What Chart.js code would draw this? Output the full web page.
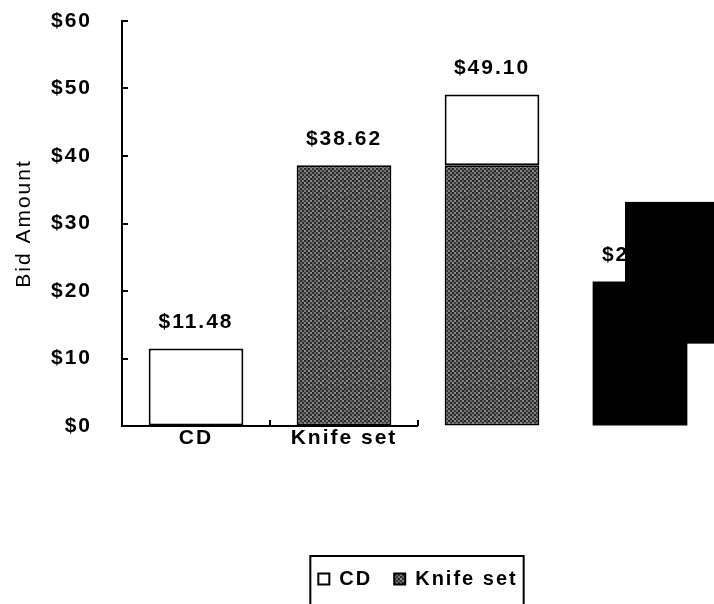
<!DOCTYPE html>
<html>
<head>
<meta charset="utf-8">
<script src="https://cdn.jsdelivr.net/npm/chart.js@4/dist/chart.umd.min.js"></script>
<style>
  html, body { margin: 0; padding: 0; background: #fff; }
  canvas { display: block; }
</style>
</head>
<body>
<canvas id="bids" width="714" height="604"></canvas>
<script>
// ---- data ----
const categories = ['CD', 'Knife set', '', ''];
const knifeSetBids = [null, 38.62, 38.62, null];
const cdBids = [11.48, null, 10.48, null];
const fourthBids = [null, null, null, 21.40];
const yTicks = [0, 10, 20, 30, 40, 50, 60];

// ---- styling constants ----
const FONT = 'Liberation Sans, Arial, Helvetica, sans-serif';
const LETTER_SPACING = '2px';
const LABEL_SIZE = 21;
const LABEL_OFFSET = 26;          // gap between a column top and its value label
const Y_AXIS_WIDTH = 122;
const X_AXIS_HEIGHT = 121;
const AXIS_SPAN = 2;              // categories the drawn x-axis line runs under
const TICK_LEN = 6;
const cover = { index: 3, from: 12.2, to: 33.2, inset: 15 };

// dithered grey fill used for the knife set columns
function speckle() {
  const levels = [
    [55, 125, 40, 95, 35, 135],
    [110, 35, 145, 45, 115, 60],
    [45, 100, 55, 135, 40, 110],
    [135, 45, 115, 35, 100, 45],
    [35, 120, 60, 125, 50, 140],
    [100, 50, 130, 40, 145, 35]
  ];
  const cell = 2;
  const c = document.createElement('canvas');
  c.width = c.height = levels.length * cell;
  const g = c.getContext('2d');
  levels.forEach((row, y) => row.forEach((v, x) => {
    g.fillStyle = `rgb(${v},${v},${v})`;
    g.fillRect(x * cell, y * cell, cell, cell);
  }));
  return g.createPattern(c, 'repeat');
}

const spacing = {
  id: 'spacing',
  beforeUpdate(chart) { chart.ctx.letterSpacing = LETTER_SPACING; },
  beforeDraw(chart) { chart.ctx.letterSpacing = LETTER_SPACING; }
};

// inward y ticks and the short x-axis line with upward ticks
const axes = {
  id: 'axes',
  afterDraw(chart) {
    const { ctx, chartArea, scales: { x, y } } = chart;
    ctx.save();
    ctx.strokeStyle = '#000';
    ctx.lineWidth = 2;
    ctx.beginPath();
    y.ticks.forEach(t => {
      const py = Math.round(y.getPixelForValue(t.value));
      ctx.moveTo(chartArea.left, py);
      ctx.lineTo(chartArea.left + TICK_LEN, py);
    });
    const half = (x.getPixelForValue(1) - x.getPixelForValue(0)) / 2;
    const end = x.getPixelForValue(AXIS_SPAN - 1) + half;
    const by = Math.round(chartArea.bottom);
    ctx.moveTo(chartArea.left - 1, by);
    ctx.lineTo(end, by);
    for (let i = 0; i < AXIS_SPAN; i++) {
      const px = Math.round(x.getPixelForValue(i) + half);
      ctx.moveTo(px, by);
      ctx.lineTo(px, by - TICK_LEN);
    }
    ctx.stroke();
    ctx.restore();
  }
};

// value labels above each column
const totals = {
  id: 'totals',
  afterDatasetsDraw(chart) {
    const { ctx, scales: { y } } = chart;
    ctx.save();
    ctx.letterSpacing = LETTER_SPACING;
    ctx.font = `bold ${LABEL_SIZE}px ${FONT}`;
    ctx.fillStyle = '#000';
    ctx.textAlign = 'center';
    ctx.textBaseline = 'middle';
    categories.forEach((_, i) => {
      let total = 0, px = null;
      chart.data.datasets.forEach((ds, d) => {
        const v = ds.data[i];
        if (v !== null && v !== undefined) {
          total += v;
          px = chart.getDatasetMeta(d).data[i].x;
        }
      });
      if (px === null) return;
      ctx.fillText('$' + total.toFixed(2), px, y.getPixelForValue(total) - LABEL_OFFSET);
    });
    ctx.restore();
  }
};

// solid black block laid over the last column
const coverBlock = {
  id: 'coverBlock',
  afterDraw(chart) {
    const { ctx, scales: { x, y } } = chart;
    const left = x.getPixelForValue(cover.index) - cover.inset;
    const top = y.getPixelForValue(cover.to);
    const bottom = y.getPixelForValue(cover.from);
    ctx.save();
    ctx.fillStyle = '#000';
    ctx.fillRect(left, top, chart.width - left, bottom - top);
    ctx.restore();
  }
};

// frame round the legend, open at the bottom edge
const legendFrame = {
  id: 'legendFrame',
  afterDraw(chart) {
    const lg = chart.legend;
    if (!lg || !lg.legendHitBoxes || !lg.legendHitBoxes.length) return;
    const boxes = lg.legendHitBoxes;
    const first = boxes[0], last = boxes[boxes.length - 1];
    const left = first.left - 8;
    const right = last.left + last.width + 6;
    const top = first.top - 13;
    const { ctx } = chart;
    ctx.save();
    ctx.strokeStyle = '#000';
    ctx.lineWidth = 2;
    ctx.beginPath();
    ctx.moveTo(left, chart.height + 5);
    ctx.lineTo(left, top);
    ctx.lineTo(right, top);
    ctx.lineTo(right, chart.height + 5);
    ctx.stroke();
    ctx.restore();
  }
};

const ctx = document.getElementById('bids').getContext('2d');
const knifeFill = speckle();

Chart.defaults.font.family = FONT;
Chart.defaults.font.size = LABEL_SIZE;
Chart.defaults.font.weight = 'bold';
Chart.defaults.color = '#000';

new Chart(ctx, {
  type: 'bar',
  data: {
    labels: categories,
    datasets: [
      { label: 'Knife set', data: knifeSetBids, backgroundColor: knifeFill,
        borderColor: '#000', borderWidth: 2, borderSkipped: false },
      { label: 'CD', data: cdBids, backgroundColor: '#fff',
        borderColor: '#000', borderWidth: 2, borderSkipped: false },
      { label: '', data: fourthBids, backgroundColor: '#000',
        borderColor: '#000', borderWidth: 0 }
    ]
  },
  options: {
    responsive: false,
    devicePixelRatio: 1,
    animation: false,
    events: [],
    layout: { padding: { top: 21, right: 0, bottom: 5, left: 0 } },
    datasets: { bar: { barPercentage: 0.64, categoryPercentage: 1 } },
    scales: {
      x: {
        stacked: true,
        grid: { display: false, drawTicks: false },
        border: { display: false },
        ticks: { padding: 0, font: { size: LABEL_SIZE, weight: 'bold' } },
        afterFit(s) { s.height = X_AXIS_HEIGHT; }
      },
      y: {
        stacked: true,
        min: 0,
        max: 60,
        afterBuildTicks(s) { s.ticks = yTicks.map(v => ({ value: v })); },
        grid: { display: true, drawOnChartArea: false, drawTicks: false },
        border: { display: true, color: '#000', width: 2 },
        ticks: { padding: 30, callback: v => '$' + v, font: { size: LABEL_SIZE, weight: 'bold' } },
        title: {
          display: true,
          text: 'Bid Amount',
          font: { size: 21, weight: 'normal' },
          padding: { top: 12, bottom: 0 }
        },
        afterFit(s) {
          s.width = Y_AXIS_WIDTH;
          s.paddingTop = 0;
          s.paddingBottom = 0;
        }
      }
    },
    plugins: {
      tooltip: { enabled: false },
      legend: {
        position: 'bottom',
        fullSize: false,
        reverse: true,
        labels: {
          boxWidth: 11,
          boxHeight: 11,
          padding: 22,
          font: { size: 20, weight: 'bold' },
          filter: item => item.text !== ''
        }
      }
    }
  },
  plugins: [spacing, axes, totals, coverBlock, legendFrame]
});
</script>
</body>
</html>
